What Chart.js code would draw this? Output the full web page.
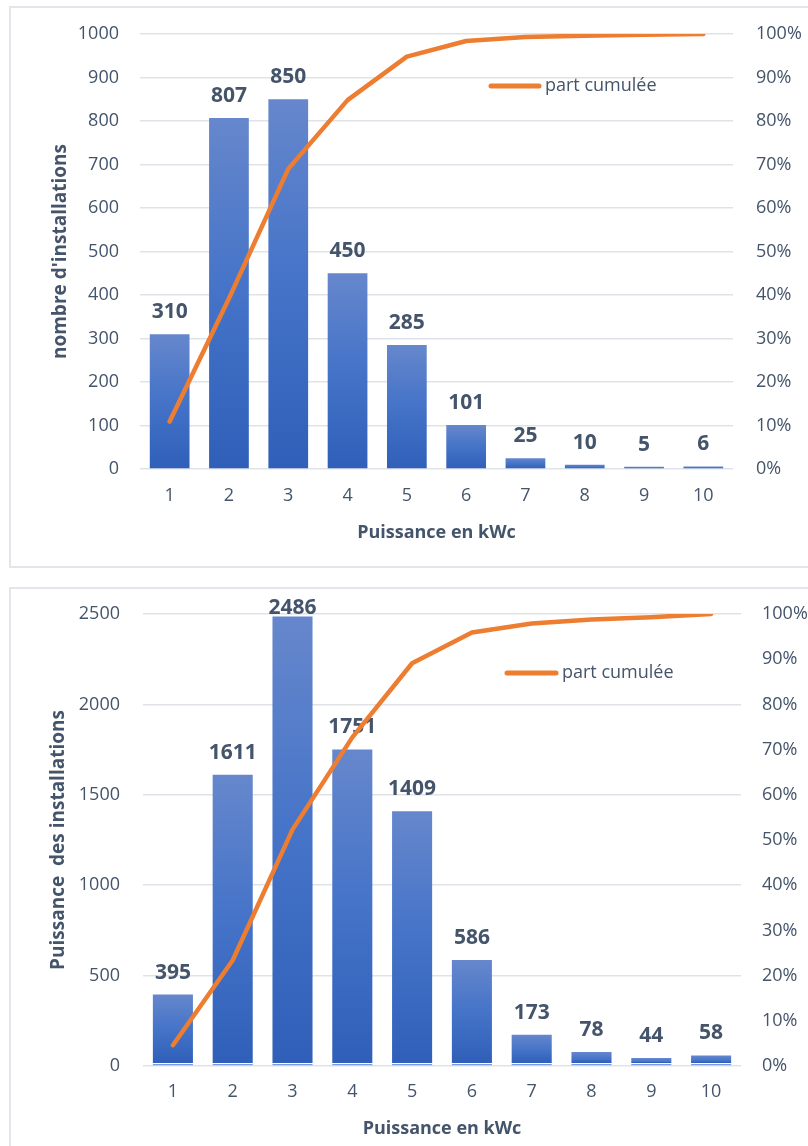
<!DOCTYPE html>
<html lang="fr">
<head>
<meta charset="UTF-8">
<title>Installations par puissance</title>
<script src="https://cdn.jsdelivr.net/npm/chart.js"></script>
<style>
  html, body { margin: 0; padding: 0; background: #fff; }
  body { position: relative; width: 808px; height: 1146px; overflow: hidden; }
  .cadre { position: absolute; border: 2px solid #e2e5e9; box-sizing: border-box; }
  #cadre1 { left: 9px; top: 6px; width: 860px; height: 562px; }
  #cadre2 { left: 9px; top: 587px; width: 860px; height: 600px; }
  canvas { position: absolute; left: 10px; }
  #chartNombre { top: 7px; }
  #chartPuissance { top: 588px; }
</style>
</head>
<body>
<div class="cadre" id="cadre1"></div>
<div class="cadre" id="cadre2"></div>
<canvas id="chartNombre" width="798" height="560"></canvas>
<canvas id="chartPuissance" width="798" height="558"></canvas>

<script>
// Catégories de puissance (kWc)
const puissances = ['1', '2', '3', '4', '5', '6', '7', '8', '9', '10'];

// Nombre d'installations par classe de puissance
const nbInstallations = [310, 807, 850, 450, 285, 101, 25, 10, 5, 6];
const partCumuleeNb = [10.9, 39.2, 69.0, 84.8, 94.8, 98.4, 99.3, 99.6, 99.8, 100];

// Puissance installée par classe
const puissanceInstallations = [395, 1611, 2486, 1751, 1409, 586, 173, 78, 44, 58];
const partCumuleePuissance = [4.6, 23.4, 52.3, 72.7, 89.1, 95.9, 97.9, 98.8, 99.3, 100];

const TEXTE = '#44546a';
const GRILLE = '#dfe3e8';
const ORANGE = '#ed7d31';
const POLICE = "'Open Sans', sans-serif";

// dégradé vertical propre à chaque barre (clair en haut, foncé en bas)
function degradeBarre(ctx, liseret) {
  const chart = ctx.chart;
  if (!chart.chartArea) return '#4472c4';
  const y = chart.scales.y;
  const haut = y.getPixelForValue(ctx.raw);
  const base = y.getPixelForValue(0);
  const g = chart.ctx.createLinearGradient(0, haut, 0, base);
  g.addColorStop(0, '#6687cc');
  g.addColorStop(0.5, '#4473c8');
  if (liseret && base - haut > 6) {
    const h = base - haut;
    g.addColorStop(1 - 3.5 / h, '#2f5fb8');
    g.addColorStop(1 - 3 / h, '#ffffff');
    g.addColorStop(1 - 2.2 / h, '#ffffff');
    g.addColorStop(1 - 2 / h, '#7b9bdb');
    g.addColorStop(1, '#7b9bdb');
  } else {
    g.addColorStop(1, '#2f5fb8');
  }
  return g;
}

// étiquettes de valeur au-dessus des barres, dessinées avant la courbe
const etiquettes = {
  id: 'etiquettes',
  afterDatasetDraw(chart, args) {
    if (args.index !== 0) return;
    const c = chart.ctx;
    c.save();
    c.font = 'bold 21px ' + POLICE;
    c.fillStyle = TEXTE;
    c.textAlign = 'center';
    c.textBaseline = 'middle';
    args.meta.data.forEach((barre, i) => {
      const y = Math.max(barre.y - 22, 20);
      c.fillText(String(chart.data.datasets[0].data[i]), barre.x, y);
    });
    c.restore();
  }
};

// légende placée dans la zone de tracé
const legendeInterne = {
  id: 'legendeInterne',
  afterDraw(chart, args, opts) {
    const ds = chart.data.datasets[1];
    const c = chart.ctx;
    c.save();
    c.strokeStyle = ds.borderColor;
    c.lineWidth = 5;
    c.lineCap = 'round';
    c.beginPath();
    c.moveTo(opts.x, opts.y);
    c.lineTo(opts.x + opts.longueur, opts.y);
    c.stroke();
    c.font = '18px ' + POLICE;
    c.fillStyle = TEXTE;
    c.textAlign = 'left';
    c.textBaseline = 'middle';
    c.fillText(ds.label, opts.x + opts.longueur + 6, opts.y);
    c.restore();
  }
};

// largeur fixe des axes verticaux, sans marge haute/basse liée aux graduations
function fixerAxeY(largeur) {
  return s => {
    s.width = largeur;
    s.paddingTop = 0;
    s.paddingBottom = 0;
  };
}

function creerGraphique(id, valeurs, cumul, p) {
  return new Chart(document.getElementById(id), {
    type: 'bar',
    data: {
      labels: puissances,
      datasets: [{
        label: p.titreY,
        data: valeurs,
        backgroundColor: ctx => degradeBarre(ctx, p.liseret),
        barPercentage: 0.67,
        categoryPercentage: 1,
        yAxisID: 'y',
        order: 1
      }, {
        type: 'line',
        label: 'part cumulée',
        data: cumul,
        borderColor: ORANGE,
        borderWidth: 4.5,
        borderCapStyle: 'round',
        borderJoinStyle: 'round',
        pointRadius: 0,
        tension: 0,
        yAxisID: 'y1',
        order: 0
      }]
    },
    options: {
      responsive: false,
      animation: false,
      layout: { padding: { top: p.haut, left: 0, right: 0, bottom: 0 } },
      plugins: {
        legend: { display: false },
        tooltip: { enabled: false },
        legendeInterne: p.legende
      },
      scales: {
        x: {
          grid: { display: false },
          border: { display: false },
          ticks: { color: TEXTE, font: { family: POLICE, size: 18 }, padding: p.padX },
          title: {
            display: true, text: 'Puissance en kWc', color: TEXTE,
            font: { family: POLICE, size: 18, weight: 'bold' },
            padding: { top: 0, bottom: p.padTitreX }
          },
          afterFit: s => { s.height = p.hauteurX; }
        },
        y: {
          position: 'left',
          min: 0, max: p.maxY,
          grid: { color: GRILLE, lineWidth: 1.5, drawTicks: false },
          border: { display: false },
          ticks: {
            stepSize: p.pasY, color: TEXTE, padding: p.padY,
            font: { family: POLICE, size: 18 },
            callback: v => String(v)
          },
          title: {
            display: true, text: p.titreY, color: TEXTE,
            font: { family: POLICE, size: 19, weight: 'bold' },
            padding: { top: p.padTitreY, bottom: 0 }
          },
          afterFit: fixerAxeY(p.largeurY)
        },
        y1: {
          position: 'right',
          min: 0, max: 100,
          grid: { display: false, drawTicks: false },
          border: { display: false },
          ticks: {
            stepSize: 10, color: TEXTE, padding: p.padY1,
            font: { family: POLICE, size: 18 },
            callback: v => v + '%'
          },
          afterFit: fixerAxeY(p.largeurY1)
        }
      }
    },
    plugins: [etiquettes, legendeInterne]
  });
}

creerGraphique('chartNombre', nbInstallations, partCumuleeNb, {
  titreY: "nombre d'installations",
  maxY: 1000, pasY: 100,
  haut: 27, largeurY: 130, largeurY1: 75, hauteurX: 98,
  padX: 8, padTitreX: 23, padY: 21, padY1: 23, padTitreY: 39,
  liseret: false,
  legende: { x: 481, y: 79, longueur: 48 }
});

creerGraphique('chartPuissance', puissanceInstallations, partCumuleePuissance, {
  titreY: 'Puissance  des installations',
  maxY: 2500, pasY: 500,
  haut: 26, largeurY: 133, largeurY1: 67, hauteurX: 80,
  padX: 7, padTitreX: 6, padY: 23, padY1: 21, padTitreY: 37,
  liseret: true,
  legende: { x: 497, y: 85, longueur: 49 }
});
</script>
</body>
</html>
